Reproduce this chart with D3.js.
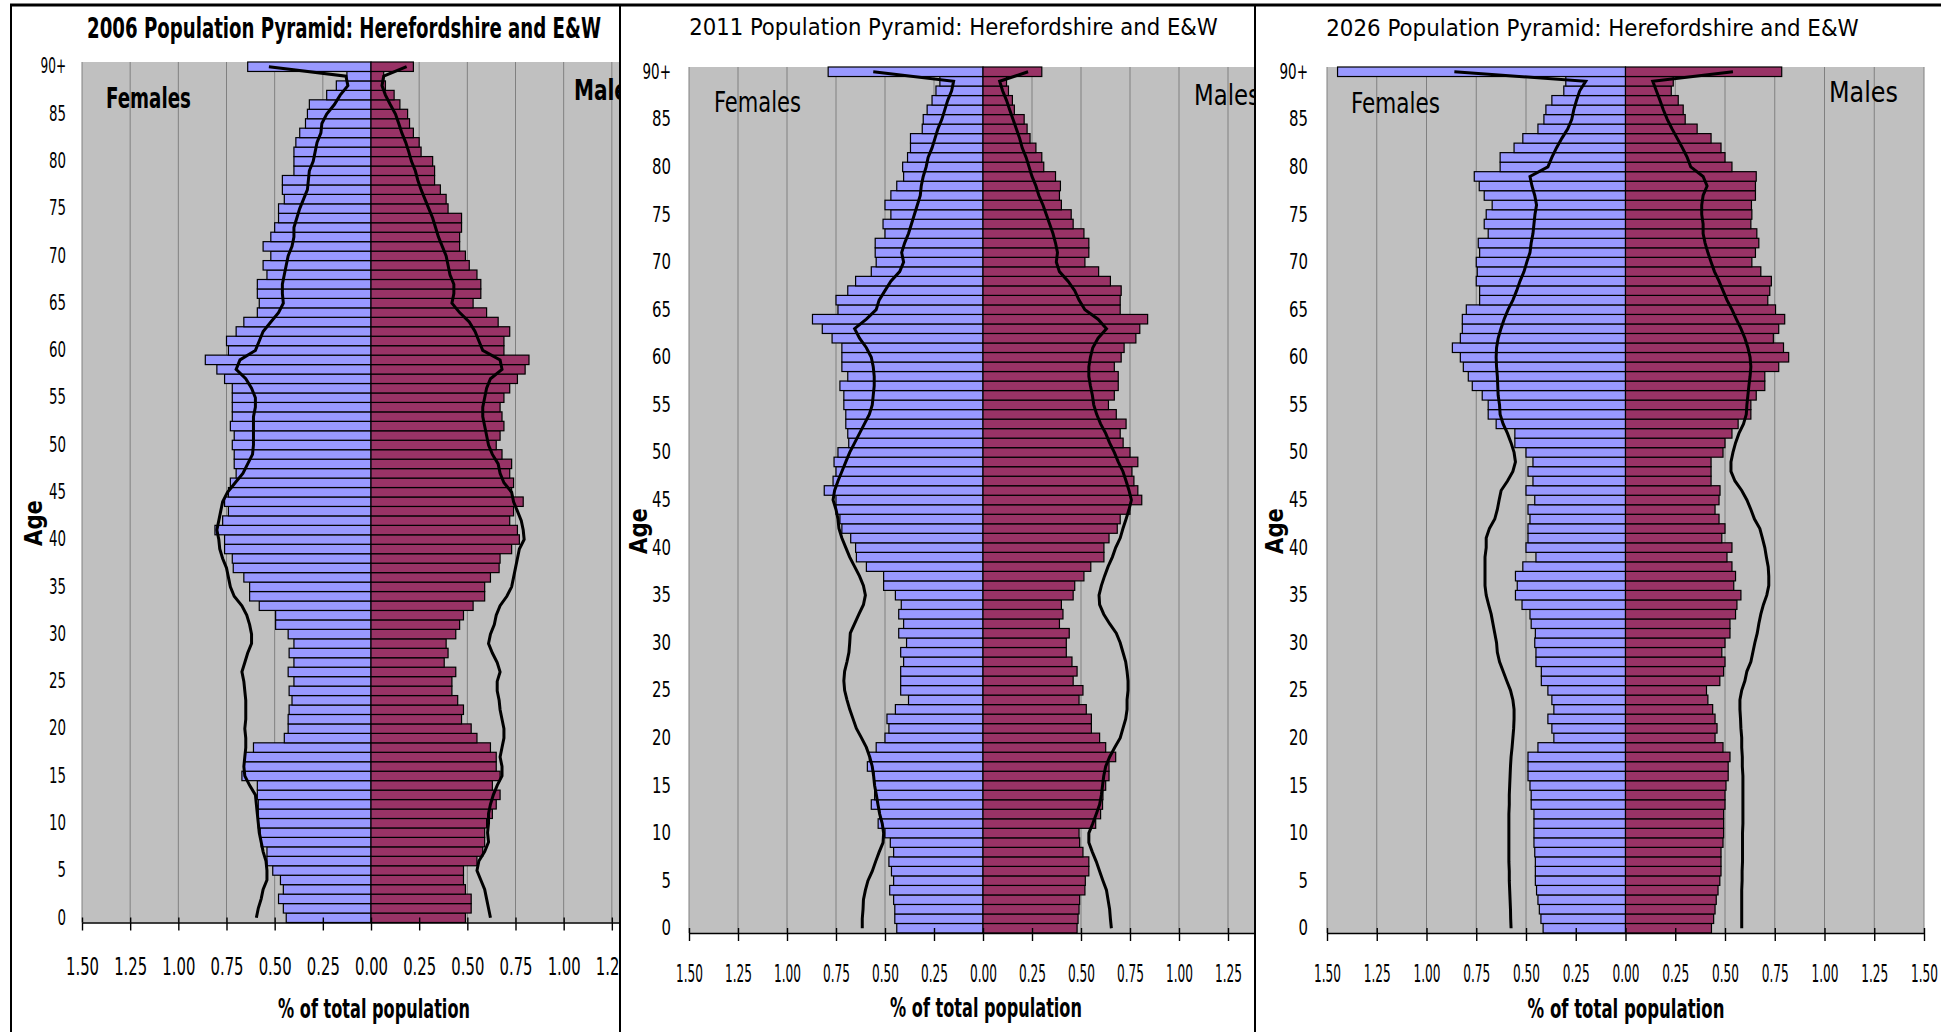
<!DOCTYPE html>
<html>
<head>
<meta charset="utf-8">
<script src="https://cdn.jsdelivr.net/npm/d3@7"></script>
<style>
  body { margin: 0; background: #fff; }
  svg text { font-family: "Liberation Sans Narrow", "DejaVu Sans Condensed", "Liberation Sans", sans-serif; }
</style>
</head>
<body>
<div id="chart"></div>
<script>
// age 0..89 and 90 = "90+"
const ages = d3.range(0, 91);
const ageLabels = ages.map(a => a === 90 ? "90+" : String(a));
const yTickLabels = ["0","5","10","15","20","25","30","35","40","45","50","55","60","65","70","75","80","85","90+"];
const xTicks = [-1.5,-1.25,-1,-0.75,-0.5,-0.25,0,0.25,0.5,0.75,1,1.25,1.5];
const titles = [
  "2006 Population Pyramid: Herefordshire and E&W",
  "2011 Population Pyramid: Herefordshire and E&W",
  "2026 Population Pyramid: Herefordshire and E&W"
];

// % of total population, index = age (0 .. 90+)
const females2006 = [0.44,0.455,0.48,0.455,0.47,0.51,0.54,0.54,0.57,0.575,
  0.585,0.585,0.585,0.59,0.59,0.67,0.66,0.655,0.61,0.45,
  0.43,0.43,0.425,0.41,0.425,0.40,0.43,0.40,0.425,0.40,
  0.43,0.495,0.495,0.58,0.63,0.63,0.66,0.715,0.72,0.76,
  0.76,0.81,0.77,0.74,0.76,0.74,0.73,0.70,0.71,0.71,
  0.72,0.71,0.73,0.72,0.72,0.72,0.72,0.76,0.80,0.86,
  0.74,0.75,0.70,0.66,0.59,0.58,0.59,0.59,0.54,0.56,
  0.52,0.56,0.52,0.50,0.48,0.48,0.45,0.46,0.46,0.40,
  0.40,0.40,0.39,0.37,0.34,0.33,0.32,0.23,0.18,0.125,0.64];
const males2006 = [0.49,0.52,0.52,0.49,0.48,0.48,0.55,0.58,0.59,0.59,
  0.60,0.63,0.65,0.67,0.63,0.67,0.65,0.65,0.62,0.55,
  0.52,0.47,0.48,0.45,0.42,0.42,0.44,0.38,0.40,0.39,
  0.44,0.46,0.48,0.53,0.59,0.59,0.62,0.665,0.67,0.73,
  0.77,0.76,0.72,0.74,0.79,0.73,0.74,0.72,0.73,0.68,
  0.65,0.67,0.69,0.68,0.67,0.69,0.72,0.76,0.80,0.82,
  0.69,0.69,0.72,0.66,0.60,0.53,0.57,0.57,0.55,0.51,
  0.49,0.46,0.46,0.47,0.47,0.40,0.39,0.36,0.33,0.33,
  0.32,0.26,0.25,0.22,0.20,0.19,0.15,0.12,0.075,0.066,0.22];
const ewFemales2006 = [0.595,0.585,0.57,0.56,0.54,0.54,0.545,0.56,0.57,0.58,
  0.585,0.59,0.595,0.60,0.63,0.655,0.66,0.655,0.65,0.65,
  0.655,0.65,0.65,0.65,0.655,0.66,0.67,0.655,0.64,0.62,
  0.62,0.63,0.645,0.67,0.71,0.73,0.74,0.75,0.77,0.785,
  0.79,0.80,0.79,0.78,0.77,0.745,0.705,0.665,0.64,0.615,
  0.61,0.61,0.61,0.61,0.60,0.60,0.62,0.65,0.70,0.68,
  0.60,0.58,0.56,0.52,0.48,0.455,0.46,0.46,0.45,0.44,
  0.43,0.41,0.40,0.40,0.385,0.37,0.35,0.33,0.325,0.32,
  0.30,0.29,0.28,0.26,0.255,0.23,0.19,0.16,0.12,0.13,0.53];
const ewMales2006 = [0.62,0.61,0.60,0.59,0.57,0.55,0.56,0.59,0.61,0.605,
  0.61,0.61,0.62,0.635,0.655,0.68,0.68,0.67,0.68,0.69,
  0.69,0.68,0.67,0.665,0.655,0.655,0.67,0.655,0.63,0.61,
  0.62,0.64,0.65,0.67,0.705,0.73,0.74,0.75,0.76,0.77,
  0.795,0.79,0.78,0.76,0.74,0.73,0.69,0.67,0.66,0.63,
  0.61,0.60,0.59,0.58,0.58,0.59,0.60,0.62,0.68,0.67,
  0.58,0.56,0.54,0.51,0.46,0.42,0.43,0.43,0.41,0.40,
  0.39,0.37,0.35,0.335,0.32,0.30,0.28,0.26,0.243,0.23,
  0.21,0.196,0.18,0.16,0.144,0.127,0.10,0.075,0.057,0.066,0.185];

const females2011 = [0.44,0.45,0.45,0.456,0.476,0.456,0.467,0.48,0.456,0.473,
  0.50,0.535,0.527,0.57,0.553,0.553,0.556,0.59,0.58,0.545,
  0.50,0.48,0.49,0.447,0.38,0.42,0.42,0.42,0.405,0.42,
  0.39,0.43,0.405,0.43,0.417,0.447,0.507,0.507,0.595,0.646,
  0.65,0.675,0.72,0.73,0.75,0.75,0.81,0.765,0.75,0.76,
  0.74,0.685,0.69,0.70,0.70,0.71,0.71,0.73,0.69,0.72,
  0.72,0.72,0.77,0.82,0.87,0.74,0.75,0.69,0.65,0.57,
  0.545,0.55,0.55,0.50,0.51,0.47,0.50,0.47,0.44,0.405,
  0.41,0.385,0.37,0.37,0.31,0.305,0.285,0.26,0.24,0.22,0.79];
const males2011 = [0.48,0.485,0.49,0.493,0.52,0.522,0.54,0.54,0.51,0.493,
  0.49,0.575,0.60,0.61,0.612,0.626,0.643,0.643,0.677,0.626,
  0.595,0.553,0.553,0.527,0.49,0.51,0.46,0.48,0.454,0.425,
  0.425,0.44,0.39,0.408,0.40,0.46,0.468,0.515,0.55,0.617,
  0.617,0.643,0.685,0.70,0.75,0.81,0.79,0.77,0.76,0.79,
  0.75,0.715,0.70,0.73,0.68,0.64,0.67,0.69,0.69,0.67,
  0.705,0.72,0.78,0.80,0.84,0.70,0.70,0.705,0.65,0.59,
  0.52,0.54,0.54,0.515,0.46,0.45,0.40,0.39,0.395,0.37,
  0.31,0.30,0.27,0.24,0.225,0.21,0.16,0.15,0.13,0.12,0.30];
const ewFemales2011 = [0.616,0.616,0.612,0.61,0.60,0.587,0.565,0.548,0.53,0.51,
  0.507,0.514,0.527,0.536,0.544,0.553,0.558,0.565,0.578,0.595,
  0.62,0.646,0.663,0.68,0.694,0.706,0.71,0.706,0.694,0.684,
  0.68,0.677,0.655,0.633,0.61,0.60,0.61,0.63,0.655,0.68,
  0.70,0.72,0.735,0.74,0.75,0.765,0.757,0.74,0.72,0.70,
  0.68,0.655,0.63,0.605,0.58,0.565,0.56,0.555,0.555,0.56,
  0.57,0.595,0.63,0.655,0.595,0.545,0.53,0.50,0.47,0.425,
  0.405,0.415,0.40,0.38,0.365,0.35,0.335,0.32,0.315,0.305,
  0.29,0.28,0.26,0.245,0.23,0.21,0.195,0.18,0.16,0.15,0.56];
const ewMales2011 = [0.655,0.65,0.646,0.638,0.63,0.612,0.595,0.578,0.558,0.54,
  0.54,0.56,0.578,0.595,0.604,0.61,0.616,0.626,0.646,0.672,
  0.70,0.714,0.728,0.735,0.735,0.74,0.74,0.735,0.728,0.714,
  0.70,0.68,0.646,0.616,0.595,0.592,0.604,0.62,0.638,0.66,
  0.677,0.70,0.714,0.73,0.745,0.757,0.745,0.73,0.714,0.69,
  0.67,0.646,0.626,0.60,0.58,0.565,0.558,0.548,0.54,0.54,
  0.548,0.56,0.587,0.63,0.587,0.52,0.49,0.468,0.434,0.39,
  0.374,0.38,0.37,0.357,0.34,0.323,0.306,0.285,0.27,0.25,
  0.235,0.22,0.20,0.187,0.17,0.153,0.136,0.12,0.10,0.085,0.23];

const females2026 = [0.414,0.425,0.433,0.44,0.447,0.453,0.453,0.453,0.456,0.46,
  0.46,0.46,0.46,0.474,0.474,0.48,0.49,0.49,0.49,0.44,
  0.36,0.37,0.39,0.36,0.37,0.39,0.423,0.423,0.45,0.45,
  0.456,0.453,0.474,0.48,0.52,0.553,0.544,0.553,0.516,0.45,
  0.50,0.49,0.49,0.48,0.49,0.456,0.50,0.465,0.49,0.465,
  0.50,0.556,0.556,0.65,0.69,0.69,0.72,0.77,0.79,0.815,
  0.83,0.87,0.83,0.82,0.82,0.80,0.733,0.733,0.75,0.745,
  0.75,0.733,0.74,0.69,0.71,0.70,0.67,0.71,0.735,0.76,
  0.63,0.63,0.56,0.516,0.44,0.41,0.40,0.37,0.31,0.30,1.447];
const males2026 = [0.432,0.443,0.45,0.456,0.465,0.474,0.48,0.48,0.48,0.49,
  0.493,0.493,0.493,0.50,0.50,0.505,0.516,0.516,0.525,0.49,
  0.45,0.46,0.45,0.438,0.414,0.407,0.474,0.493,0.50,0.484,
  0.50,0.525,0.525,0.553,0.56,0.58,0.544,0.553,0.535,0.51,
  0.535,0.484,0.50,0.47,0.45,0.47,0.475,0.43,0.43,0.43,
  0.49,0.50,0.535,0.566,0.63,0.63,0.657,0.70,0.70,0.77,
  0.82,0.794,0.743,0.77,0.80,0.754,0.715,0.725,0.733,0.68,
  0.635,0.653,0.67,0.66,0.63,0.635,0.633,0.653,0.653,0.657,
  0.535,0.50,0.48,0.43,0.36,0.30,0.29,0.265,0.23,0.24,0.785];
const ewFemales2026 = [0.575,0.577,0.578,0.58,0.582,0.584,0.584,0.586,0.586,0.586,
  0.586,0.586,0.586,0.584,0.584,0.582,0.58,0.578,0.575,0.57,
  0.566,0.562,0.56,0.56,0.566,0.578,0.597,0.615,0.633,0.644,
  0.648,0.657,0.666,0.675,0.688,0.70,0.706,0.706,0.706,0.706,
  0.70,0.70,0.684,0.657,0.644,0.635,0.625,0.593,0.566,0.553,
  0.56,0.575,0.593,0.615,0.63,0.633,0.64,0.642,0.644,0.648,
  0.65,0.648,0.64,0.626,0.61,0.59,0.566,0.547,0.53,0.51,
  0.496,0.48,0.474,0.465,0.46,0.455,0.447,0.456,0.47,0.48,
  0.39,0.37,0.347,0.32,0.29,0.27,0.26,0.246,0.23,0.20,0.86];
const ewMales2026 = [0.584,0.584,0.584,0.584,0.584,0.586,0.586,0.588,0.588,0.588,
  0.588,0.59,0.59,0.59,0.59,0.59,0.59,0.587,0.587,0.584,
  0.584,0.58,0.578,0.575,0.575,0.584,0.60,0.61,0.63,0.64,
  0.65,0.662,0.67,0.68,0.693,0.71,0.72,0.72,0.717,0.708,
  0.70,0.688,0.675,0.648,0.63,0.61,0.584,0.55,0.53,0.53,
  0.54,0.553,0.57,0.593,0.607,0.61,0.615,0.62,0.626,0.63,
  0.626,0.615,0.60,0.58,0.557,0.535,0.51,0.49,0.47,0.447,
  0.43,0.414,0.40,0.39,0.39,0.383,0.383,0.39,0.41,0.39,
  0.328,0.31,0.286,0.26,0.234,0.21,0.19,0.173,0.155,0.137,0.54];

const series = [
  { f: females2006, m: males2006, ewF: ewFemales2006, ewM: ewMales2006 },
  { f: females2011, m: males2011, ewF: ewFemales2011, ewM: ewMales2011 },
  { f: females2026, m: males2026, ewF: ewFemales2026, ewM: ewMales2026 }
];

// layout of the three cropped chart panels
const panels = [
  { x0: 82, x1: 660, top: 62, bottom: 922.5, clipL: 12, clipR: 619,
    title: { x: 344, y: 38, size: 29, bold: true, len: 514 },
    fem: { x: 106, y: 108, len: 85, bold: true }, mal: { x: 574, y: 100, len: 66, bold: true },
    xlab: { x: 374, y: 1018, len: 192 }, age: { x: 34, y: 523 },
    tickY: 975, tickLen: 33, yPad: 16, ySize: 21, yChar: 8.5 },
  { x0: 689, x1: 1277, top: 67, bottom: 933, clipL: 622, clipR: 1254,
    title: { x: 953.5, y: 35, size: 23, bold: false, len: 529 },
    fem: { x: 714, y: 112, len: 87, bold: false }, mal: { x: 1194, y: 105, len: 66, bold: false },
    xlab: { x: 986, y: 1017, len: 192 }, age: { x: 639, y: 531 },
    tickY: 982, tickLen: 27, yPad: 18, ySize: 22, yChar: 9.5 },
  { x0: 1327, x1: 1924, top: 67, bottom: 933, clipL: 1257, clipR: 1941,
    title: { x: 1592.5, y: 36, size: 23, bold: false, len: 533 },
    fem: { x: 1351, y: 113, len: 89, bold: false }, mal: { x: 1829, y: 102, len: 69, bold: false },
    xlab: { x: 1626, y: 1018, len: 197 }, age: { x: 1275, y: 531 },
    tickY: 982, tickLen: 27, yPad: 19, ySize: 22, yChar: 9.5 }
];

const width = 1941, height = 1032;
const svg = d3.select("#chart").append("svg")
  .attr("width", width)
  .attr("height", height)
  .style("display", "block");

// squeeze a text horizontally to the wanted width (the source glyphs are narrow)
function squeeze(sel, len, extra) {
  sel.each(function () {
    const t = d3.select(this);
    const w = this.getComputedTextLength();
    const target = typeof len === "function" ? len(this) : len;
    if (!w || !target) return;
    const s = target / w;
    const x0 = +t.attr("x") || 0;
    t.attr("x", x0 / s).attr("transform", (extra || "") + `scale(${s},1)`);
  });
}

function addText(g, txt, x, y, o) {
  const t = g.append("text")
    .attr("x", x).attr("y", y)
    .attr("font-size", o.size)
    .attr("font-weight", o.bold ? "bold" : "normal")
    .attr("text-anchor", o.anchor || "start")
    .attr("fill", "#000")
    .text(txt);
  if (o.len) squeeze(t, o.len);
  return t;
}

function drawPyramid(i) {
  const p = panels[i], d = series[i];
  const clipId = "clip" + i;
  svg.append("clipPath").attr("id", clipId)
    .append("rect")
    .attr("x", p.clipL).attr("y", 0)
    .attr("width", p.clipR - p.clipL).attr("height", height);

  const g = svg.append("g").attr("clip-path", `url(#${clipId})`);

  const x = d3.scaleLinear().domain([-1.5, 1.5]).range([p.x0, p.x1]);
  const y = d3.scaleBand().domain(ageLabels.slice().reverse()).range([p.top, p.bottom]).padding(0);
  const yMid = a => y(ageLabels[a]) + y.bandwidth() / 2;

  // plot area
  g.append("rect")
    .attr("x", x(-1.5)).attr("y", p.top)
    .attr("width", x(1.5) - x(-1.5)).attr("height", p.bottom - p.top)
    .attr("fill", "#c0c0c0");

  g.append("g").selectAll("line")
    .data(xTicks)
    .join("line")
    .attr("x1", v => x(v)).attr("x2", v => x(v))
    .attr("y1", p.top).attr("y2", p.bottom)
    .attr("stroke", "#808080")
    .attr("stroke-width", 1);

  // Herefordshire bars
  g.append("g").selectAll("rect")
    .data(ages)
    .join("rect")
    .attr("x", a => x(-d.f[a]))
    .attr("y", a => y(ageLabels[a]))
    .attr("width", a => x(0) - x(-d.f[a]))
    .attr("height", y.bandwidth())
    .attr("fill", "#9999ff")
    .attr("stroke", "#000")
    .attr("stroke-width", 1.2);

  g.append("g").selectAll("rect")
    .data(ages)
    .join("rect")
    .attr("x", x(0))
    .attr("y", a => y(ageLabels[a]))
    .attr("width", a => x(d.m[a]) - x(0))
    .attr("height", y.bandwidth())
    .attr("fill", "#993366")
    .attr("stroke", "#000")
    .attr("stroke-width", 1.2);

  // England & Wales profile
  const lineF = d3.line().x(a => x(-d.ewF[a])).y(yMid);
  const lineM = d3.line().x(a => x(d.ewM[a])).y(yMid);
  g.append("path").datum(ages).attr("d", lineF)
    .attr("fill", "none").attr("stroke", "#000").attr("stroke-width", 3);
  g.append("path").datum(ages).attr("d", lineM)
    .attr("fill", "none").attr("stroke", "#000").attr("stroke-width", 3);

  // x axis
  const xAxis = g.append("g")
    .attr("transform", `translate(0,${p.bottom})`)
    .call(d3.axisBottom(x).tickValues(xTicks).tickSize(8).tickSizeOuter(0)
      .tickFormat(v => Math.abs(v).toFixed(2)));
  xAxis.attr("font-family", null).attr("font-size", null);
  xAxis.select(".domain").attr("stroke", "#000").attr("stroke-width", 1.6);
  xAxis.selectAll(".tick line").attr("stroke", "#000").attr("stroke-width", 1.4);
  xAxis.selectAll(".tick").append("line")
    .attr("y1", 0).attr("y2", -5)
    .attr("stroke", "#000").attr("stroke-width", 1.4);
  const xt = xAxis.selectAll(".tick text")
    .attr("y", p.tickY - p.bottom).attr("dy", null)
    .attr("font-size", 24)
    .attr("fill", "#000");
  squeeze(xt, p.tickLen);

  // y axis
  const yAxis = g.append("g")
    .attr("transform", `translate(${p.x0},0)`)
    .call(d3.axisLeft(y).tickValues(yTickLabels).tickSize(0).tickPadding(p.yPad));
  yAxis.attr("font-family", null).attr("font-size", null);
  yAxis.select(".domain").remove();
  const yt = yAxis.selectAll(".tick text").attr("font-size", p.ySize).attr("fill", "#000");
  squeeze(yt, el => el.textContent.length * p.yChar);

  // texts
  addText(g, titles[i], p.title.x, p.title.y,
    { size: p.title.size, bold: p.title.bold, anchor: "middle", len: p.title.len });
  addText(g, "Females", p.fem.x, p.fem.y, { size: 28, bold: p.fem.bold, len: p.fem.len });
  addText(g, "Males", p.mal.x, p.mal.y, { size: 28, bold: p.mal.bold, len: p.mal.len });
  addText(g, "% of total population", p.xlab.x, p.xlab.y,
    { size: 26, bold: true, anchor: "middle", len: p.xlab.len });
  const ageText = g.append("text")
    .attr("x", 0).attr("y", 0)
    .attr("text-anchor", "middle")
    .attr("font-size", 24)
    .attr("font-weight", "bold")
    .text("Age");
  squeeze(ageText, 46, `translate(${p.age.x + 8},${p.age.y}) rotate(-90) `);
}

[0, 1, 2].forEach(drawPyramid);

// frames of the pasted chart pictures
svg.append("line").attr("x1", 10).attr("x2", width).attr("y1", 5).attr("y2", 5)
  .attr("stroke", "#000").attr("stroke-width", 3);
[11, 620, 1255].forEach(xv => {
  svg.append("line").attr("x1", xv).attr("x2", xv).attr("y1", 5).attr("y2", height)
    .attr("stroke", "#000").attr("stroke-width", 2);
});
</script>
</body>
</html>
